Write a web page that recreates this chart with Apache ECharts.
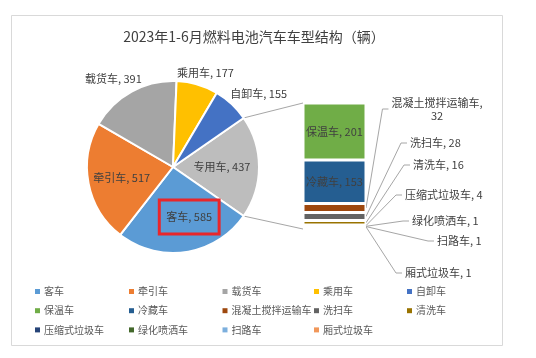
<!DOCTYPE html>
<html><head><meta charset="utf-8">
<script src="https://cdn.jsdelivr.net/npm/echarts@6/dist/echarts.min.js"></script>
<style>html,body{margin:0;padding:0;background:#fff}#c{width:536px;height:358px}</style>
</head><body><div id="c"></div>
<script>
const titleText = '2023年1-6月燃料电池汽车车型结构（辆）';
const pieNames = ['专用车', '客车', '牵引车', '载货车', '乘用车', '自卸车'];
const pieValues = [437, 585, 517, 391, 177, 155];
const barNames = ['保温车', '冷藏车', '混凝土搅拌运输车', '洗扫车', '清洗车', '压缩式垃圾车', '绿化喷洒车', '扫路车', '厢式垃圾车'];
const barValues = [201, 153, 32, 28, 16, 4, 1, 1, 1];
const legendColumns = [
  ['客车', '保温车', '压缩式垃圾车'],
  ['牵引车', '冷藏车', '绿化喷洒车'],
  ['载货车', '混凝土搅拌运输车', '扫路车'],
  ['乘用车', '洗扫车', '厢式垃圾车'],
  ['自卸车', '清洗车']
];

// styling
const pieColors = ['#BDBDBD', '#5B9BD5', '#ED7D31', '#A5A5A5', '#FFC000', '#4472C4'];
const barColors = ['#70AD47', '#255E91', '#9E480E', '#636363', '#997300', '#264478', '#43682B', '#7CAFDD', '#F1975A'];
const FONT = "'Noto Sans CJK SC', 'Microsoft YaHei', sans-serif";
const TXT = '#404040';
const LINE = '#A6A6A6';
const CX = 173, CY = 167, R = 86;
const G = {left: 303, top: 103, width: 63, height: 124};
// label placement for pie labels: [angle deg (ccw from 3 o'clock), radius factor]
const pieLabelPolar = [[0, 0.57], [-72, 0.61], [192, 0.61], [124, 1.24], [71, 1.16], [40.5, 1.31]];
// label placement for small bar items: [x, y, align]
const barLabelPos = {
  '混凝土搅拌运输车': [437, 109, 'center'],
  '洗扫车': [410, 143, 'left'],
  '清洗车': [413, 165, 'left'],
  '压缩式垃圾车': [405, 195, 'left'],
  '绿化喷洒车': [412, 221, 'left'],
  '扫路车': [437, 241, 'left'],
  '厢式垃圾车': [405, 273, 'left']
};

const pieTotal = pieValues.reduce((a, b) => a + b, 0);
const startAngle = pieValues[0] / pieTotal * 360 / 2;
const barTotal = barValues.reduce((a, b) => a + b, 0);

const pieData = pieNames.map((n, i) => {
  const d = {name: n, value: pieValues[i], itemStyle: {color: pieColors[i]}};
  if (n === '客车') {
    d.label = {borderColor: '#E8262B', borderWidth: 3, padding: [12, 7, 11, 7]};
  }
  return d;
});

const series = [{
  type: 'pie',
  center: [CX, CY],
  radius: R,
  startAngle: startAngle,
  clockwise: true,
  data: pieData,
  itemStyle: {borderColor: '#fff', borderWidth: 2},
  label: {show: true, position: 'inside', formatter: '{b}, {c}', color: TXT, fontSize: 11, fontFamily: FONT},
  labelLine: {show: false},
  labelLayout: function (p) {
    const pl = pieLabelPolar[p.dataIndex];
    const a = pl[0] * Math.PI / 180;
    return {x: CX + R * pl[1] * Math.cos(a), y: CY - R * pl[1] * Math.sin(a), align: 'center', verticalAlign: 'middle'};
  },
  emphasis: {disabled: true},
  silent: true
}];

function labelText(n, v) {
  return n === '混凝土搅拌运输车' ? n + ',\n' + v : n + ', ' + v;
}

// stacked bar: bottom item first
for (let k = barNames.length - 1; k >= 0; k--) {
  const n = barNames[k];
  const s = {
    type: 'bar', name: n, stack: 'other', data: [barValues[k]],
    barWidth: '100%',
    itemStyle: {color: barColors[k], borderColor: '#fff', borderWidth: 1.5},
    label: {show: true, position: 'inside', formatter: p => labelText(p.seriesName, p.value), color: TXT, fontSize: 11, fontFamily: FONT},
    emphasis: {disabled: true},
    silent: true
  };
  if (barLabelPos[n]) {
    const p = barLabelPos[n];
    s.label.align = p[2];
    s.label.lineHeight = 13;
    s.labelLayout = {x: p[0], y: p[1], align: p[2], verticalAlign: 'middle'};
  }
  series.push(s);
}

const legends = legendColumns.map((col, i) => ({
  orient: 'vertical',
  left: [35, 129, 222.5, 314, 407][i],
  top: 284.5,
  data: col,
  icon: 'rect',
  itemWidth: 5, itemHeight: 5,
  itemGap: 5.2,
  itemStyle: {borderWidth: 0},
  padding: 0,
  selectedMode: false,
  textStyle: {fontSize: 10, color: '#595959', fontFamily: FONT, lineHeight: 14, padding: [0, 0, 0, -1]}
}));

function edgePt(deg) {
  const a = deg * Math.PI / 180;
  return [CX + R * Math.cos(a), CY - R * Math.sin(a)];
}
const pTop = edgePt(startAngle), pBot = edgePt(-startAngle);

const baseGraphic = [
  {type: 'rect', shape: {x: 11.5, y: 15.5, width: 491, height: 330}, style: {fill: 'none', stroke: '#D9D9D9', lineWidth: 1}, silent: true, z: -10},
  {type: 'line', shape: {x1: pTop[0], y1: pTop[1], x2: G.left, y2: G.top}, style: {stroke: LINE, lineWidth: 1}, silent: true},
  {type: 'line', shape: {x1: pBot[0], y1: pBot[1], x2: G.left, y2: G.top + G.height + 2}, style: {stroke: LINE, lineWidth: 1}, silent: true}
];

const option = {
  animation: false,
  backgroundColor: '#fff',
  title: {
    text: titleText, left: 254, top: 30, textAlign: 'center', padding: 0,
    textStyle: {fontSize: 14, fontWeight: 'normal', color: TXT, fontFamily: FONT}
  },
  legend: legends,
  grid: G,
  xAxis: {type: 'category', data: [''], show: false},
  yAxis: {type: 'value', min: 0, max: barTotal, show: false},
  graphic: baseGraphic,
  series: series
};
const chart = echarts.init(document.getElementById('c'), null, {renderer: 'canvas'});
chart.setOption(option);

// leader lines for the small stacked segments, from segment's right edge to label
const ctx = document.createElement('canvas').getContext('2d');
ctx.font = '11px ' + FONT;
const leaders = [];
let cum = 0;
for (let k = barNames.length - 1; k >= 0; k--) {
  const n = barNames[k];
  const mid = cum + barValues[k] / 2;
  cum += barValues[k];
  if (!barLabelPos[n]) continue;
  const pt = chart.convertToPixel({gridIndex: 0}, [0, mid]);
  const rightX = G.left + G.width;
  const p = barLabelPos[n];
  let left = p[0];
  if (p[2] === 'center') {
    left = p[0] - ctx.measureText(n + ',').width / 2;
  }
  const ex = left - 3;
  leaders.push({
    type: 'polyline',
    shape: {points: [[rightX, Math.min(pt[1], G.top + G.height + 1)], [ex - 6, p[1]], [ex, p[1]]]},
    style: {stroke: LINE, lineWidth: 1, fill: null},
    silent: true
  });
}
chart.setOption({graphic: baseGraphic.concat(leaders)});
</script></body></html>
